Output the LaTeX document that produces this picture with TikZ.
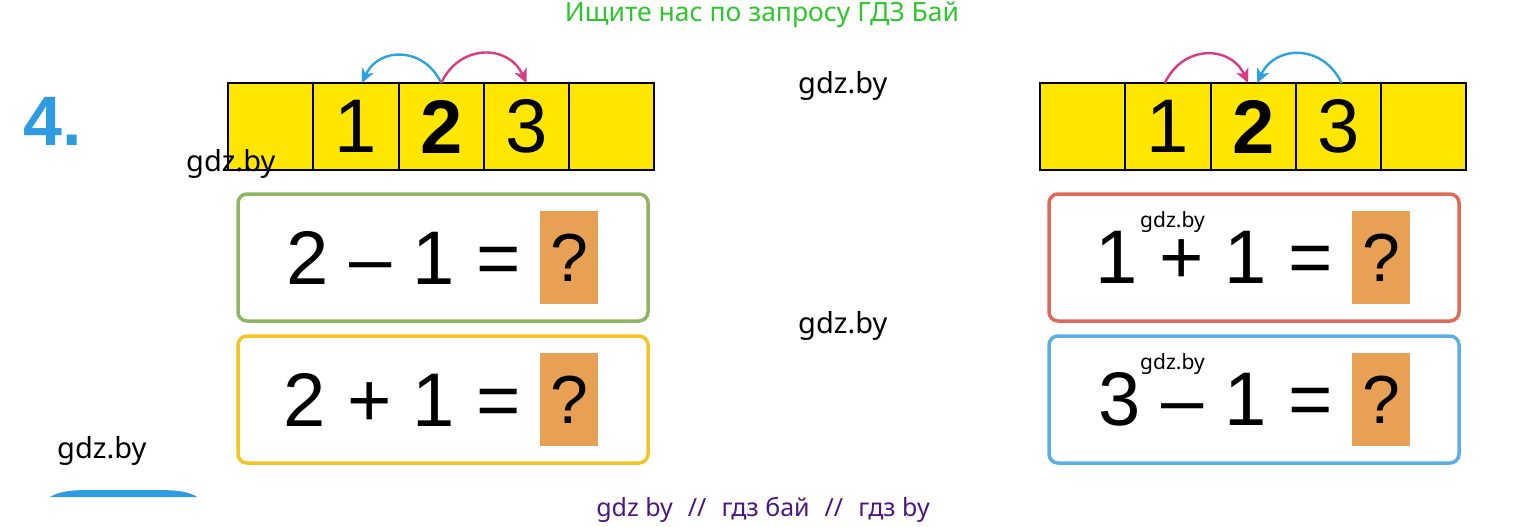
\documentclass[tikz,border=0pt]{standalone}
\usepackage{fontspec}
\setmainfont{Liberation Sans}
\newfontfamily\marcafont{Noto Sans}
\usetikzlibrary{positioning,arrows.meta}

\definecolor{amarillo}{HTML}{FFE600}
\definecolor{naranja}{HTML}{E8A154}
\definecolor{verdemarco}{HTML}{8DB564}
\definecolor{oromarco}{HTML}{F4C324}
\definecolor{rojomarco}{HTML}{DE6B59}
\definecolor{azulmarco}{HTML}{5CAEE6}
\definecolor{azulflecha}{HTML}{2CA2E0}
\definecolor{rosaflecha}{HTML}{D93A84}
\definecolor{azulnumero}{HTML}{2E9BE2}
\definecolor{verdetexto}{HTML}{2DC62D}
\definecolor{moradotexto}{HTML}{4B1780}

\begin{document}
\begin{tikzpicture}[x=1pt,y=1pt,
        casilla/.style={draw=black,line width=2pt,fill=amarillo,minimum width=85.3pt,
                minimum height=87pt,inner sep=0pt,outer sep=0pt,font=\fontsize{76}{80}\selectfont},
        marco/.style={draw,rounded corners=9pt,line width=3.5pt,minimum width=410pt,minimum height=127pt},
        pregunta/.style={fill=naranja,minimum width=58pt,minimum height=93pt,inner sep=0pt,
                font=\fontsize{68}{70}\selectfont},
        ecuacion/.style={inner sep=0pt,font=\fontsize{76}{80}\selectfont},
        flecha/.style={line width=2.4pt,-{Stealth[length=14pt,width=13pt,inset=4pt]}},
        marca/.style={anchor=base west,inner sep=0pt,font=\marcafont\fontsize{29}{32}\selectfont},
        marcachica/.style={anchor=base west,inner sep=0pt,font=\marcafont\fontsize{21}{24}\selectfont},
        node distance=0pt]
        \useasboundingbox (0,0) rectangle (1528,-527);

        % Paso 1: Texto superior y numero del ejercicio
        \node[anchor=base,inner sep=0pt,text=verdetexto,font=\marcafont\fontsize{26.5}{30}\selectfont] (titulo) at (762,-22) {Ищите нас по запросу ГДЗ Бай};
        \node[anchor=base west,inner sep=0pt,text=azulnumero,font=\bfseries\fontsize{70}{74}\selectfont] (cuatro) at (23,-145) {4.};

        % Paso 2: Casillas de la izquierda
        \node[casilla] (L1) at (270.6,-126.5) {};
        \node[casilla,right=of L1] (L2) {1};
        \node[casilla,right=of L2] (L3) {\textbf{2}};
        \node[casilla,right=of L3] (L4) {3};
        \node[casilla,right=of L4] (L5) {};

        % Paso 3: Casillas de la derecha
        \node[casilla] (R1) at (1082.6,-126.5) {};
        \node[casilla,right=of R1] (R2) {1};
        \node[casilla,right=of R2] (R3) {\textbf{2}};
        \node[casilla,right=of R3] (R4) {3};
        \node[casilla,right=of R4] (R5) {};
        \draw[line width=2pt] (L2.north east) -- (L2.south east) (R2.north east) -- (R2.south east);

        % Paso 4: Flechas sobre las casillas
        \draw[flecha,azulflecha] (L3.north) to[bend right=65,looseness=1.3] ([xshift=6pt]L2.north);
        \draw[flecha,rosaflecha] (L3.north) to[bend left=65,looseness=1.3] (L4.north);
        \draw[flecha,rosaflecha] ([xshift=-3pt]R2.north) to[bend left=65,looseness=1.3] ([xshift=-5pt]R3.north);
        \draw[flecha,azulflecha] ([xshift=3pt]R4.north) to[bend right=65,looseness=1.3] ([xshift=4pt]R3.north);

        % Paso 5: Marcos de las igualdades
        \node[marco,draw=verdemarco] (bA) at (443,-257.5) {};
        \node[marco,draw=oromarco] (bB) at (443,-399.5) {};
        \node[marco,draw=rojomarco] (bC) at (1254,-257.5) {};
        \node[marco,draw=azulmarco] (bD) at (1254,-399.5) {};

        % Paso 6: Casillas con signo de pregunta
        \node[pregunta] (qA) at (569,-257.5) {?};
        \node[pregunta] (qB) at (569,-399.5) {?};
        \node[pregunta] (qC) at (1381,-257.5) {?};
        \node[pregunta] (qD) at (1381,-399.5) {?};

        % Paso 7: Igualdades
        \node[ecuacion,left=19pt of qA] (eA) {2 \textendash{} 1 =};
        \node[ecuacion,left=19pt of qB] (eB) {2 + 1 =};
        \node[ecuacion,left=19pt of qC] (eC) {1 + 1 =};
        \node[ecuacion,left=19pt of qD] (eD) {3 \textendash{} 1 =};

        % Paso 8: Marcas de agua
        \node[marca] (m1) at (186,-171) {gdz.by};
        \node[marca] (m2) at (798,-93) {gdz.by};
        \node[marca] (m3) at (798,-333) {gdz.by};
        \node[marca] (m4) at (57,-458) {gdz.by};
        \node[marcachica] (m5) at (1140,-227) {gdz.by};
        \node[marcachica] (m6) at (1140,-369) {gdz.by};

        % Paso 9: Figura cortada y texto inferior
        \fill[azulnumero] (50,-497) .. controls (60,-491) and (72,-490) .. (92,-490) -- (158,-490)
                .. controls (178,-490) and (190,-492) .. (197,-497) -- cycle;
        \node[anchor=base,inner sep=0pt,text=moradotexto,font=\marcafont\fontsize{25}{28}\selectfont] (pie) at (763,-516) {gdz by\hspace{15pt}//\hspace{15pt}гдз бай\hspace{15pt}//\hspace{15pt}гдз by};
    \end{tikzpicture}
\end{document}
